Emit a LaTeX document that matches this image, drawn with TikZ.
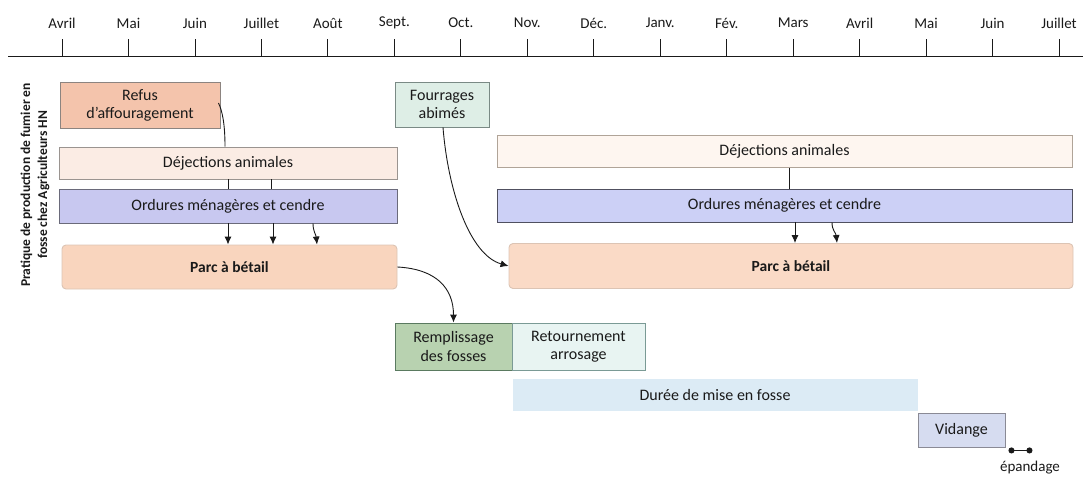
\documentclass[tikz,border=0pt]{standalone}
\usepackage{fontspec}
\setmainfont{Carlito}
\usetikzlibrary{arrows.meta,calc}

\definecolor{ink}{HTML}{1A1A1A}
\definecolor{refusF}{HTML}{F4C4AC}\definecolor{refusD}{HTML}{8C8480}
\definecolor{dejLF}{HTML}{FBECE4}\definecolor{dejLD}{HTML}{9A9490}
\definecolor{ordLF}{HTML}{C8C8F0}\definecolor{ordLD}{HTML}{6A6A7A}
\definecolor{parcF}{HTML}{F9D5BE}\definecolor{parcD}{HTML}{DCC4B4}
\definecolor{fourF}{HTML}{DEEEE6}\definecolor{fourD}{HTML}{7A8A85}
\definecolor{dejRF}{HTML}{FEF6F0}\definecolor{dejRD}{HTML}{B0A498}
\definecolor{ordRF}{HTML}{CCD0F6}\definecolor{ordRD}{HTML}{505060}
\definecolor{parcRF}{HTML}{FADAC6}
\definecolor{rempF}{HTML}{B8D2B0}\definecolor{rempD}{HTML}{5A7A60}
\definecolor{retF}{HTML}{E8F4F2}\definecolor{retD}{HTML}{7A9A95}
\definecolor{dureeF}{HTML}{DCEBF5}
\definecolor{vidF}{HTML}{D6DCF0}\definecolor{vidD}{HTML}{8A8A95}

\begin{document}
\begin{tikzpicture}[x=1pt,y=-1pt,
  blk/.style={draw=#1, line width=0.9pt, inner sep=1pt, align=center,
    text=ink, font=\fontsize{16}{18}\selectfont},
  month/.style={text=ink, font=\fontsize{15}{17}\selectfont, inner sep=0pt},
  link/.style={draw=ink, line width=0.9pt},
  arr/.style={link, -{Latex[length=8pt,width=7pt]}}]

% page frame
\useasboundingbox (0,0) rectangle (1083,476);

% time axis with one tick per month
\coordinate (ax0) at (8,56);
\coordinate (ax1) at (1083,56);
\draw[link] (ax0) -- (ax1);
\foreach \m [count=\i from 0] in {Avril,Mai,Juin,Juillet,Août,Sept.,Oct.,Nov.,Déc.,Janv.,Fév.,Mars,Avril,Mai,Juin,Juillet}{
  \coordinate (t\i) at ({62+66.47*\i},56);
  \draw[link, line width=0.8pt] (t\i) -- ++(0,-17);
  \node[month] (m\i) at ({62+66.47*\i},23) {\m};
}

% side title
\node[rotate=90, align=center, text=ink, inner sep=0pt,
      font=\bfseries\fontsize{13.5}{17}\selectfont] (side) at (35,185)
  {Pratique de production de fumier en\\fosse chez Agriculteurs HN};

% first season
\node[blk=refusD, fill=refusF, minimum width=160, minimum height=46] (refus) at (140,105) {Refus\\d’affouragement};
\node[blk=dejLD, fill=dejLF, minimum width=338, minimum height=32] (dejL) at (228,163) {Déjections animales};
\node[blk=ordLD, fill=ordLF, minimum width=338, minimum height=34] (ordL) at (228,206) {Ordures ménagères et cendre};
\node[blk=parcD, fill=parcF, rounded corners=4pt, minimum width=335, minimum height=44,
      font=\bfseries\fontsize{15.5}{18}\selectfont] (parcL) at (229.5,267) {Parc à bétail};

% second season
\node[blk=fourD, fill=fourF, minimum width=94, minimum height=45] (fourr) at (442,104.5) {Fourrages\\abimés};
\node[blk=dejRD, fill=dejRF, minimum width=575, minimum height=32] (dejR) at (784.5,151.5) {Déjections animales};
\node[blk=ordRD, fill=ordRF, minimum width=575, minimum height=33] (ordR) at (784.5,205.5) {Ordures ménagères et cendre};
\node[blk=parcD, fill=parcRF, rounded corners=4pt, minimum width=564, minimum height=45,
      font=\bfseries\fontsize{15.5}{18}\selectfont] (parcR) at (791,266) {Parc à bétail};

% pit stages
\node[blk=rempD, fill=rempF, minimum width=117, minimum height=47] (rempl) at (453.5,346.5) {Remplissage\\des fosses};
\node[blk=retD, fill=retF, minimum width=133, minimum height=47] (retour) at (578.5,346.5) {Retournement\\arrosage};
\node[blk=dureeF, fill=dureeF, minimum width=404, minimum height=31] (duree) at (715,395) {Durée de mise en fosse};
\node[blk=vidD, fill=vidF, minimum width=87, minimum height=34] (vidange) at (961.5,430) {Vidange};

% spreading
\coordinate (ep1) at ([shift={(3,3)}]vidange.south east);
\coordinate (ep2) at ([shift={(27,3)}]vidange.south east);
\draw[link, line width=1.1pt, {Circle[length=6pt]}-{Circle[length=6pt]}] (ep1) -- (ep2);
\node[text=ink, font=\fontsize{15}{17}\selectfont, inner sep=0pt] (epl) at (1030,468) {épandage};

% flows, first season
\draw[link] ([shift={(-2,-2)}]refus.east) .. controls +(4,8) and +(0,-22) .. ([xshift=-3pt]dejL.north);
\draw[link] (dejL.south) -- (ordL.north);
\draw[link] ([xshift=43pt]dejL.south) -- ([xshift=43pt]ordL.north);
\coordinate (a1) at (ordL.south);
\coordinate (a2) at ([xshift=45pt]ordL.south);
\coordinate (a3) at ([xshift=85pt]ordL.south);
\coordinate (a3e) at ([xshift=89pt]ordL.south);
\draw[arr] (a1) -- (a1 |- parcL.north);
\draw[arr] (a2) -- (a2 |- parcL.north);
\draw[arr] (a3) .. controls +(0,8) and +(-1,-10) .. (a3e |- parcL.north);

% flows, second season
\draw[link] ([xshift=4.5pt]dejR.south) -- ([xshift=4.5pt]ordR.north);
\coordinate (b1) at ([xshift=10.5pt]ordR.south);
\coordinate (b2) at ([xshift=47.5pt]ordR.south);
\coordinate (b2e) at ([xshift=52.5pt]ordR.south);
\draw[arr] (b1) -- (b1 |- parcR.north);
\draw[arr] (b2) .. controls +(0,8) and +(-1,-10) .. (b2e |- parcR.north);
\draw[arr] ([xshift=1pt]fourr.south) .. controls +(5,63) and +(-39,-11) .. (parcR.west);

% into the pits
\draw[arr] (parcL.east) .. controls +(38,2) and +(0,-35) .. (rempl.north);
\end{tikzpicture}
\end{document}
